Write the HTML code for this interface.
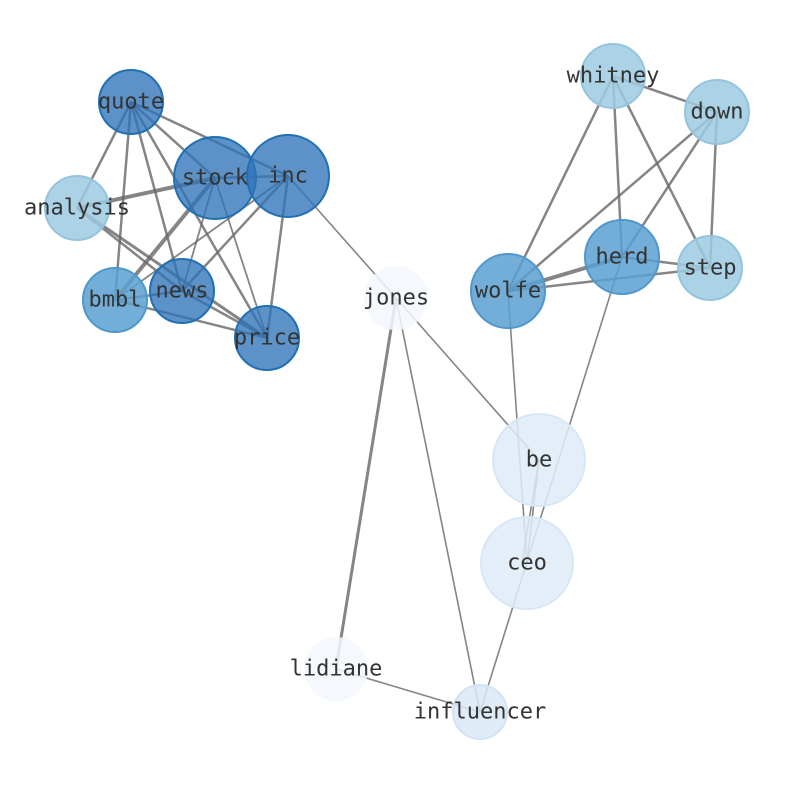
<!DOCTYPE html>
<html><head><meta charset="utf-8"><style>
html,body{margin:0;padding:0;background:#fff;}
svg text{font-family:"DejaVu Sans Mono","Liberation Mono",monospace;font-size:22px;fill:#333;text-anchor:middle;dominant-baseline:central;}
</style></head><body>
<svg width="794" height="790" viewBox="0 0 794 790" xmlns="http://www.w3.org/2000/svg">
<g stroke="#666" stroke-opacity="0.8" fill="none">
<g stroke-width="2.5">
<line x1="131" y1="102" x2="215" y2="178"/>
<line x1="131" y1="102" x2="288" y2="176"/>
<line x1="131" y1="102" x2="77" y2="208"/>
<line x1="131" y1="102" x2="115" y2="300"/>
<line x1="131" y1="102" x2="182" y2="291"/>
<line x1="131" y1="102" x2="267" y2="338"/>
<line x1="215" y1="178" x2="77" y2="208" stroke-width="4"/>
<line x1="215" y1="178" x2="115" y2="300" stroke-width="4"/>
<line x1="215" y1="178" x2="182" y2="291" stroke-width="1.8"/>
<line x1="215" y1="178" x2="267" y2="338" stroke-width="1.8"/>
<line x1="215" y1="178" x2="288" y2="176"/>
<line x1="288" y1="176" x2="115" y2="300" stroke-width="1.8"/>
<line x1="288" y1="176" x2="267" y2="338"/>
<line x1="288" y1="176" x2="182" y2="291"/>
<line x1="77" y1="208" x2="182" y2="291"/>
<line x1="77" y1="208" x2="267" y2="338" stroke-width="3"/>
<line x1="115" y1="300" x2="182" y2="291"/>
<line x1="115" y1="300" x2="267" y2="338"/>
<line x1="182" y1="291" x2="267" y2="338"/>
<line x1="613" y1="76" x2="717" y2="112"/>
<line x1="613" y1="76" x2="622" y2="257"/>
<line x1="613" y1="76" x2="710" y2="268"/>
<line x1="613" y1="76" x2="508" y2="291"/>
<line x1="717" y1="112" x2="508" y2="291"/>
<line x1="717" y1="112" x2="622" y2="257"/>
<line x1="717" y1="112" x2="710" y2="268"/>
<line x1="622" y1="257" x2="710" y2="268"/>
<line x1="622" y1="257" x2="508" y2="291" stroke-width="4"/>
<line x1="508" y1="291" x2="710" y2="268"/>
<line x1="396" y1="298" x2="336" y2="669" stroke-width="3"/>
</g>
<g stroke-width="1.6">
<line x1="288" y1="176" x2="396" y2="298"/>
<line x1="396" y1="298" x2="539" y2="460"/>
<line x1="396" y1="298" x2="480" y2="712"/>
<line x1="336" y1="669" x2="480" y2="712"/>
<line x1="622" y1="257" x2="480" y2="712"/>
<line x1="508" y1="291" x2="527" y2="563"/>
<line x1="539" y1="460" x2="527" y2="563"/>
<line x1="539" y1="460" x2="522" y2="563"/>
</g>
</g>
<g>
<circle cx="131" cy="102" r="32" fill="#2f73b8" fill-opacity="0.78" stroke="#2070b4" stroke-width="2"/>
<circle cx="77" cy="208" r="32" fill="#9ecae1" fill-opacity="0.85" stroke="#94c4df" stroke-width="2"/>
<circle cx="115" cy="300" r="32" fill="#5aa0d2" fill-opacity="0.85" stroke="#4f97cc" stroke-width="2"/>
<circle cx="182" cy="291" r="32" fill="#2f73b8" fill-opacity="0.78" stroke="#2070b4" stroke-width="2"/>
<circle cx="267" cy="338" r="32" fill="#2f73b8" fill-opacity="0.78" stroke="#2070b4" stroke-width="2"/>
<circle cx="215" cy="178" r="41" fill="#2f73b8" fill-opacity="0.78" stroke="#2070b4" stroke-width="2"/>
<circle cx="288" cy="176" r="41" fill="#2f73b8" fill-opacity="0.78" stroke="#2070b4" stroke-width="2"/>
<circle cx="396" cy="298" r="32" fill="#f3f8fd" fill-opacity="0.85"/>
<circle cx="613" cy="76" r="32" fill="#9ecae1" fill-opacity="0.85" stroke="#94c4df" stroke-width="2"/>
<circle cx="717" cy="112" r="32" fill="#9ecae1" fill-opacity="0.85" stroke="#94c4df" stroke-width="2"/>
<circle cx="710" cy="268" r="32" fill="#9ecae1" fill-opacity="0.85" stroke="#94c4df" stroke-width="2"/>
<circle cx="622" cy="257" r="37" fill="#5aa0d2" fill-opacity="0.85" stroke="#4f97cc" stroke-width="2"/>
<circle cx="508" cy="291" r="37" fill="#5aa0d2" fill-opacity="0.85" stroke="#4f97cc" stroke-width="2"/>
<circle cx="539" cy="460" r="46" fill="#deebf7" fill-opacity="0.85" stroke="#d8e7f5" stroke-width="2"/>
<circle cx="527" cy="563" r="46" fill="#deebf7" fill-opacity="0.85" stroke="#d8e7f5" stroke-width="2"/>
<circle cx="336" cy="669" r="32" fill="#f3f8fd" fill-opacity="0.85"/>
<circle cx="480" cy="712" r="27" fill="#d9e7f5" fill-opacity="0.85" stroke="#d2e3f3" stroke-width="2"/>
</g>
<g>
<text x="131" y="102">quote</text>
<text x="77" y="208">analysis</text>
<text x="115" y="300">bmbl</text>
<text x="182" y="291">news</text>
<text x="267" y="338">price</text>
<text x="215" y="178">stock</text>
<text x="288" y="176">inc</text>
<text x="396" y="298">jones</text>
<text x="613" y="76">whitney</text>
<text x="717" y="112">down</text>
<text x="710" y="268">step</text>
<text x="622" y="257">herd</text>
<text x="508" y="291">wolfe</text>
<text x="539" y="460">be</text>
<text x="527" y="563">ceo</text>
<text x="336" y="669">lidiane</text>
<text x="480" y="712">influencer</text>
</g>
</svg>
</body></html>
